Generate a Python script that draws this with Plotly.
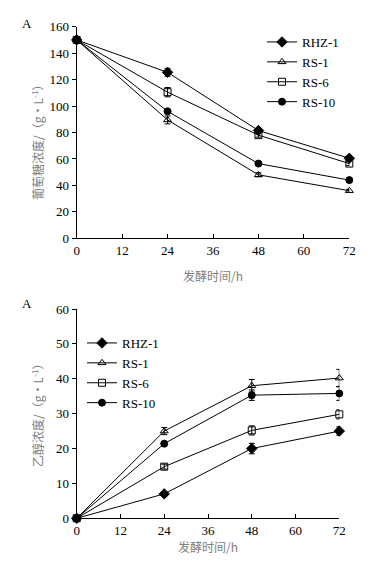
import plotly.graph_objects as go

hours = [0, 24, 48, 72]
strains = ["RHZ-1", "RS-1", "RS-6", "RS-10"]

# Glucose concentration (g/L)
glucose = {
    "RHZ-1": [150, 125.5, 81.5, 60.5],
    "RS-1": [150, 89.5, 48, 36],
    "RS-6": [150, 110.5, 78, 56.5],
    "RS-10": [150, 96, 56.5, 44],
}
glucose_err = {
    "RHZ-1": [1, 3, 1.5, 1],
    "RS-1": [1, 3, 1.5, 1],
    "RS-6": [1, 3.5, 1.5, 1.5],
    "RS-10": [1, 1.5, 1, 1],
}

# Ethanol concentration (g/L)
ethanol = {
    "RHZ-1": [0, 7, 20, 25],
    "RS-1": [0, 25, 38, 40.2],
    "RS-6": [0, 14.8, 25.2, 29.8],
    "RS-10": [0, 21.4, 35.3, 35.8],
}
ethanol_err = {
    "RHZ-1": [0.2, 0.5, 1.5, 1.2],
    "RS-1": [0.2, 1, 1.8, 2.5],
    "RS-6": [0.2, 0.7, 1.3, 1.3],
    "RS-10": [0.2, 0.6, 1.5, 2],
}

symbols = {"RHZ-1": "diamond", "RS-1": "triangle-up-open",
           "RS-6": "square-open", "RS-10": "circle"}
msize = {"RHZ-1": 8, "RS-1": 7, "RS-6": 7, "RS-10": 7}

# page body has an 8px margin; size figure to fit the window without scrollbars
OFF = 8
W, H = 369 - 2 * OFF, 565 - 2 * OFF
def px(x):
    return (x - OFF) / W
def py(y):
    return 1 - (y - OFF) / H

fig = go.Figure()
serif = "Liberation Serif, Times New Roman, serif"
cjk = "Noto Sans CJK SC, sans-serif"

for s in strains:
    fig.add_trace(go.Scatter(
        x=hours, y=glucose[s], name=s, mode="lines+markers",
        line=dict(color="black", width=1),
        marker=dict(symbol=symbols[s], size=msize[s], color="black",
                    line=dict(color="black", width=1)),
        error_y=dict(type="data", array=glucose_err[s], color="black",
                     thickness=1, width=3),
        cliponaxis=False, xaxis="x", yaxis="y", legend="legend",
    ))
for s in strains:
    fig.add_trace(go.Scatter(
        x=hours, y=ethanol[s], name=s, mode="lines+markers",
        line=dict(color="black", width=1),
        marker=dict(symbol=symbols[s], size=msize[s], color="black",
                    line=dict(color="black", width=1)),
        error_y=dict(type="data", array=ethanol_err[s], color="black",
                     thickness=1, width=3),
        cliponaxis=False, xaxis="x2", yaxis="y2", legend="legend2",
    ))

xcommon = dict(range=[0, 72], dtick=12, tick0=0, showgrid=False, zeroline=False,
               showline=True, linecolor="black", linewidth=1, automargin=False,
               ticks="inside", ticklen=4, tickcolor="black",
               tickfont=dict(family=serif, size=13, color="black"))
ycommon = dict(showgrid=False, zeroline=False, showline=True, linecolor="black",
               linewidth=1, ticks="outside", ticklen=4, tickcolor="black",
               automargin=False,
               tickfont=dict(family=serif, size=13, color="black"))

def ann(text, x, y, font, angle=0):
    return dict(text=text, x=px(x), y=py(y), xref="paper", yref="paper",
                xanchor="center", yanchor="middle", showarrow=False,
                textangle=angle, font=font)

fserif = dict(family=serif, size=13, color="black")
fgray = dict(family=cjk, size=12, color="#808080")

fig.update_layout(
    width=W, height=H, margin=dict(l=0, r=0, t=0, b=0, autoexpand=False),
    paper_bgcolor="white", plot_bgcolor="white",
    xaxis=dict(domain=[px(76.7), px(349.3)], anchor="y", **xcommon),
    yaxis=dict(domain=[py(238.3), py(26.7)], anchor="x", range=[0, 160], dtick=20, **ycommon),
    xaxis2=dict(domain=[px(76.7), px(339.3)], anchor="y2", **xcommon),
    yaxis2=dict(domain=[py(518.3), py(309)], anchor="x2", range=[0, 60], dtick=10, **ycommon),
    legend=dict(x=px(262), y=py(27), xanchor="left", yanchor="top",
                font=fserif, bgcolor="rgba(0,0,0,0)", tracegroupgap=0),
    legend2=dict(x=px(82), y=py(328), xanchor="left", yanchor="top",
                 font=fserif, bgcolor="rgba(0,0,0,0)", tracegroupgap=0),
    annotations=[
        ann("A", 27, 24, fserif),
        ann("A", 27, 303, fserif),
        ann("发酵时间/h", 213, 275, fgray),
        ann("发酵时间/h", 208, 546, fgray),
        ann("葡萄糖浓度/（g·L<sup>-1</sup>）", 37, 139, fgray, -90),
        ann("乙醇浓度/（g·L<sup>-1</sup>）", 37, 412, fgray, -90),
    ],
)

fig.write_html("out.html")
